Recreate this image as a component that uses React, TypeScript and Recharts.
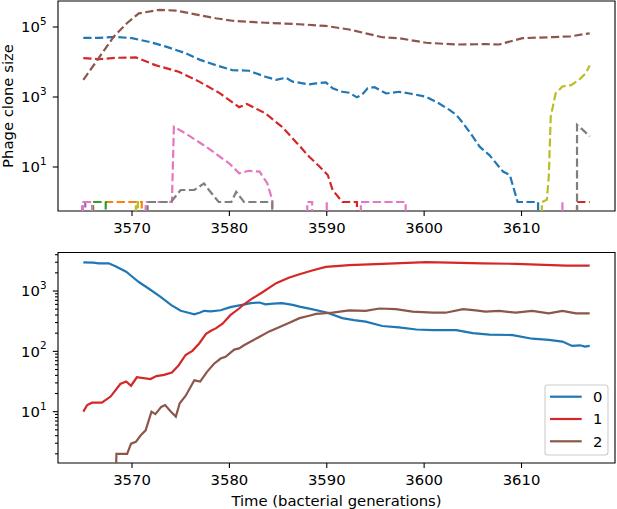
import React from 'react';
import { LineChart, Line, XAxis, YAxis, ReferenceArea } from 'recharts';

const FONT = '"DejaVu Sans", sans-serif';
const EXTINCT = 0.01; // clone size 0, drawn below the log axis

// ---- axes ----
const X_DOMAIN: [number, number] = [3562.4, 3619.6];
const X_TICKS = [3570, 3580, 3590, 3600, 3610];
const TOP_Y_DOMAIN: [number, number] = [0.553, 553000];
const TOP_Y_TICKS = [10, 1000, 100000];
const BOTTOM_Y_DOMAIN: [number, number] = [1.41, 4350];
const BOTTOM_Y_MAJOR = [10, 100, 1000];
const BOTTOM_Y_TICKS = [2, 3, 4, 5, 6, 7, 8, 9, 10, 20, 30, 40, 50, 60, 70, 80, 90, 100, 200, 300, 400, 500, 600, 700, 800, 900, 1000, 2000, 3000, 4000];

// ---- top panel: phage clone sizes ----
const clone0T = [3565, 3566.6, 3568.3, 3570, 3571.7, 3573.5, 3575.5, 3577, 3578.6, 3580.3, 3582, 3583.7, 3584.8, 3585.8, 3586.5, 3588.2, 3588.9, 3589.9, 3590.6, 3591.6, 3592.3, 3593.1, 3593.6, 3594.2, 3594.9, 3596.1, 3597.4, 3598.5, 3600.2, 3601.5, 3602.6, 3603.3, 3604, 3605, 3605.7, 3606.7, 3608.1, 3608.8, 3609.6, 3611.7, 3611.7];
const clone0V = [49000, 49000, 52500, 47900, 38000, 27500, 17800, 11500, 8130, 5890, 5620, 3800, 3090, 3550, 2750, 2290, 2450, 2630, 1780, 1410, 1320, 977, 1150, 1780, 1910, 1260, 1410, 1260, 1020, 661, 427, 309, 178, 74, 38, 21.9, 7.4, 5.9, 1, 1, EXTINCT];

const clone1T = [3566, 3566, 3571, 3571];
const clone1V = [EXTINCT, 1, 1, EXTINCT];

const clone2T = [3566, 3566, 3567.3, 3567.3];
const clone2V = [EXTINCT, 1, 1, EXTINCT];

const clone3T = [3565, 3566.6, 3568.3, 3570.4, 3572.4, 3574.8, 3576.9, 3579, 3581, 3581.8, 3583.7, 3585.4, 3587.2, 3588.2, 3589.2, 3590.1, 3590.6, 3591.6, 3593.1, 3593.1, 3604, 3615.7, 3615.7, 3617];
const clone3V = [12900, 12000, 13200, 13500, 8130, 5250, 2750, 1290, 513, 631, 339, 141, 40, 19.5, 10.7, 5.9, 2.2, 1, 1, EXTINCT, null, EXTINCT, 1, 1];

const clone4T = [3564.9, 3564.9, 3565.2, 3565.2];
const clone4V = [EXTINCT, 1, 1, EXTINCT];

const clone5T = [3565, 3566.5, 3568.1, 3569.5, 3570.7, 3572.8, 3574.5, 3576.9, 3578.6, 3580.3, 3583.7, 3587.2, 3589.9, 3592.3, 3594, 3595.7, 3597.4, 3600.2, 3603.3, 3606.4, 3607.7, 3609.4, 3610.1, 3613.2, 3615, 3617];
const clone5V = [3100, 12000, 52000, 130000, 245000, 309000, 295000, 219000, 178000, 151000, 132000, 120000, 107000, 85000, 66000, 51000, 48000, 35500, 31600, 32400, 31600, 42700, 47900, 51300, 54000, 66000];

const clone6T = [3564.95, 3564.95, 3565.9, 3565.9, 3568, 3571.4, 3571.4, 3574.1, 3574.3, 3575.5, 3577.6, 3580, 3581, 3582, 3583.1, 3583.9, 3584.4, 3584.5, 3586, 3588, 3588, 3588.5, 3588.5, 3589, 3590, 3590, 3590, 3592, 3593.5, 3593.5, 3598.1, 3598.1, 3606, 3614.2, 3614.2, 3614.2];
const clone6V = [EXTINCT, 1, 1, EXTINCT, null, EXTINCT, 1, 1, 141, 91, 38, 12.6, 6.6, 7.8, 7.4, 3.4, 1.15, EXTINCT, null, EXTINCT, 1, 1, EXTINCT, null, EXTINCT, 1, EXTINCT, null, EXTINCT, 1, 1, EXTINCT, null, EXTINCT, 1, EXTINCT];

const clone7T = [3571.6, 3571.6, 3574, 3575, 3576.4, 3577.4, 3577.9, 3578.9, 3580.2, 3580.7, 3581.5, 3584.4, 3584.4, 3600, 3615.7, 3615.7, 3616.3, 3617];
const clone7V = [EXTINCT, 1, 1, 2.2, 2.2, 3.4, 2.2, 1, 1, 1.95, 1, 1, EXTINCT, null, EXTINCT, 160, 115, 75];

const clone8T = [3570.4, 3570.4, 3570.6, 3570.6, 3590, 3611.9, 3612.1, 3612.6, 3612.8, 3613, 3613.5, 3614.2, 3615.1, 3615.9, 3616.6, 3617];
const clone8V = [EXTINCT, 1, 1, EXTINCT, null, EXTINCT, 1, 1.15, 5.2, 275, 1260, 2000, 2190, 3090, 4790, 7940];

// ---- bottom panel: bacterial populations ----
const bact0T = [3565, 3566, 3566.6, 3567.6, 3568.3, 3569.4, 3570, 3570.7, 3571.7, 3572.9, 3574, 3575, 3575.7, 3576.4, 3577, 3577.4, 3578.1, 3579.1, 3580.1, 3581.3, 3582.2, 3583.1, 3583.7, 3584.5, 3585.4, 3586.5, 3587.2, 3588.2, 3589.9, 3591.6, 3592.8, 3594, 3595.7, 3597.4, 3599.2, 3600.9, 3603.3, 3605, 3606.7, 3609.1, 3611.1, 3612.8, 3614.2, 3615.2, 3616, 3616.5, 3617];
const bact0V = [2990, 2950, 2880, 2880, 2570, 2090, 1740, 1410, 1100, 810, 590, 470, 440, 410, 440, 470, 460, 480, 540, 590, 630, 645, 600, 620, 630, 590, 550, 510, 445, 355, 330, 310, 263, 250, 230, 224, 224, 200, 190, 186, 162, 155, 145, 123, 126, 120, 123];

const bact1T = [3565, 3565.4, 3565.9, 3566.9, 3567.8, 3568.8, 3569.4, 3569.9, 3570.5, 3571.9, 3572.5, 3573.3, 3574.1, 3574.8, 3575.5, 3576.2, 3576.9, 3577.6, 3578.1, 3578.6, 3579.3, 3580.1, 3581, 3581.5, 3582.4, 3583.4, 3584.8, 3586.1, 3587.2, 3588.5, 3589.9, 3592.3, 3595.7, 3600.2, 3602.6, 3606, 3609.4, 3614.6, 3617];
const bact1V = [10, 12.9, 14.1, 14.1, 17.8, 28.8, 31.6, 26.9, 37.2, 34.7, 38.9, 40.7, 44.7, 58.9, 87, 102, 135, 195, 219, 240, 288, 398, 513, 603, 760, 955, 1350, 1660, 1900, 2190, 2510, 2690, 2820, 3020, 2950, 2880, 2820, 2630, 2630];

const bact2T = [3568.35, 3568.4, 3569.5, 3569.9, 3570.4, 3570.9, 3571.4, 3572, 3572.4, 3573, 3573.4, 3574, 3574.5, 3574.9, 3575.5, 3576.4, 3577, 3577.7, 3578.4, 3579.1, 3579.6, 3580.5, 3581, 3581.5, 3582.3, 3583.1, 3584.1, 3585.1, 3586.1, 3587.2, 3588.2, 3588.9, 3590.6, 3592.3, 3594, 3595.4, 3597.1, 3598.8, 3600.9, 3602.2, 3604, 3605.3, 3606.3, 3607.7, 3609.4, 3611.1, 3612.8, 3614.2, 3615.6, 3617];
const bact2V = [1, 2, 2, 2.95, 3.16, 4.07, 4.9, 10, 9.1, 12, 12.9, 10, 8.3, 13.8, 18.2, 33.1, 31.6, 45.7, 61.7, 75.9, 81.3, 107, 112, 126, 148, 174, 214, 251, 295, 355, 389, 417, 437, 479, 468, 513, 501, 457, 437, 437, 501, 479, 457, 468, 437, 468, 427, 468, 427, 427];

const LEGEND_LABELS = ['0', '1', '2'];

const zip = (t: number[], v: (number | null)[]) => t.map((x, i) => ({ t: x, v: v[i] }));

const C = {
  blue: '#1f77b4', orange: '#ff7f0e', green: '#2ca02c', red: '#d62728', purple: '#9467bd',
  brown: '#8c564b', pink: '#e377c2', gray: '#7f7f7f', olive: '#bcbd22',
};

const phageSeries = [
  { data: zip(clone0T, clone0V), color: C.blue },
  { data: zip(clone1T, clone1V), color: C.orange },
  { data: zip(clone2T, clone2V), color: C.green },
  { data: zip(clone3T, clone3V), color: C.red },
  { data: zip(clone4T, clone4V), color: C.purple },
  { data: zip(clone5T, clone5V), color: C.brown },
  { data: zip(clone6T, clone6V), color: C.pink },
  { data: zip(clone7T, clone7V), color: C.gray },
  { data: zip(clone8T, clone8V), color: C.olive },
];

const bactSeries = [
  { data: zip(bact0T, bact0V), color: C.blue, name: LEGEND_LABELS[0] },
  { data: zip(bact1T, bact1V), color: C.red, name: LEGEND_LABELS[1] },
  { data: zip(bact2T, bact2V), color: C.brown, name: LEGEND_LABELS[2] },
];

const FS = 14.8;

function LogTick(props: any) {
  const { x, y, payload, majors } = props;
  const v = payload?.value;
  const major = majors.includes(v);
  const exp = Math.round(Math.log10(v));
  return (
    <g>
      <line x1={x - (major ? 5.2 : 3)} x2={x} y1={y} y2={y} stroke="#000" strokeWidth={1.1} />
      {major && (
        <text x={x - 11.5} y={y + 5.2} textAnchor="end" fontSize={FS} fontFamily={FONT} fill="#000">
          10<tspan dy={-7.2} fontSize={10.4}>{exp}</tspan>
        </text>
      )}
    </g>
  );
}

const xAxisCommon = {
  type: 'number' as const,
  dataKey: 't',
  domain: X_DOMAIN,
  ticks: X_TICKS,
  allowDataOverflow: true,
  interval: 0 as const,
  axisLine: false,
  tickSize: 5,
  tickMargin: 6,
  tickLine: { stroke: '#000', strokeWidth: 1.1 },
  tick: { fill: '#000', fontSize: FS, fontFamily: FONT },
};

export default function App() {
  return (
    <div style={{ position: 'relative', width: 617, height: 509, background: '#fff', fontFamily: FONT }}>
      <style>{'body{margin:0;}'}</style>
      <div style={{ position: 'absolute', left: 0, top: 0 }}>
        <LineChart width={617} height={240} margin={{ top: 1, right: 2, left: 0, bottom: 0 }}>
          <XAxis {...xAxisCommon} height={29} />
          <YAxis
            type="number"
            scale="log"
            domain={TOP_Y_DOMAIN}
            ticks={TOP_Y_TICKS}
            allowDataOverflow
            interval={0}
            width={58}
            axisLine={false}
            tickLine={false}
            tickSize={0}
            tickMargin={0}
            tick={(p: any) => <LogTick {...p} majors={TOP_Y_TICKS} />}
          />
          {phageSeries.map((s, i) => (
            <Line
              key={i}
              data={s.data}
              dataKey="v"
              type="linear"
              stroke={s.color}
              strokeWidth={2.2}
              strokeDasharray="8.2 3.5"
              dot={false}
              activeDot={false}
              connectNulls={false}
              isAnimationActive={false}
            />
          ))}
          <ReferenceArea
            x1={X_DOMAIN[0]}
            x2={X_DOMAIN[1]}
            y1={TOP_Y_DOMAIN[0]}
            y2={TOP_Y_DOMAIN[1]}
            fill="none"
            stroke="#000"
            strokeWidth={1.1}
            ifOverflow="visible"
          />
        </LineChart>
      </div>
      <div style={{ position: 'absolute', left: 0, top: 240 }}>
        <LineChart width={617} height={269} margin={{ top: 12.5, right: 2, left: 0, bottom: 0 }}>
          <XAxis {...xAxisCommon} height={46} />
          <YAxis
            type="number"
            scale="log"
            domain={BOTTOM_Y_DOMAIN}
            ticks={BOTTOM_Y_TICKS}
            allowDataOverflow
            interval={0}
            width={58}
            axisLine={false}
            tickLine={false}
            tickSize={0}
            tickMargin={0}
            tick={(p: any) => <LogTick {...p} majors={BOTTOM_Y_MAJOR} />}
          />
          {bactSeries.map((s, i) => (
            <Line
              key={i}
              data={s.data}
              dataKey="v"
              name={s.name}
              type="linear"
              stroke={s.color}
              strokeWidth={2.2}
              dot={false}
              activeDot={false}
              connectNulls={false}
              isAnimationActive={false}
            />
          ))}
          <ReferenceArea
            x1={X_DOMAIN[0]}
            x2={X_DOMAIN[1]}
            y1={BOTTOM_Y_DOMAIN[0]}
            y2={BOTTOM_Y_DOMAIN[1]}
            fill="none"
            stroke="#000"
            strokeWidth={1.1}
            ifOverflow="visible"
          />
        </LineChart>
      </div>
      <svg
        width={617}
        height={509}
        style={{ position: 'absolute', left: 0, top: 0, pointerEvents: 'none' }}
      >
        <text
          transform="rotate(-90)"
          x={-106}
          y={13}
          textAnchor="middle"
          fontSize={FS}
          fontFamily={FONT}
          fill="#000"
        >
          Phage clone size
        </text>
        <text x={336.5} y={505.5} textAnchor="middle" fontSize={FS} fontFamily={FONT} fill="#000">
          Time (bacterial generations)
        </text>
        <g>
          <rect x={545} y={385} width={63} height={70} rx={3} fill="#fff" fillOpacity={0.8} stroke="#cccccc" strokeWidth={1.1} />
          {bactSeries.map((s, i) => (
            <g key={i}>
              <line x1={550} x2={581.7} y1={396.7 + i * 22.3} y2={396.7 + i * 22.3} stroke={s.color} strokeWidth={2.2} />
              <text x={593} y={396.7 + i * 22.3 + 5.3} fontSize={FS} fontFamily={FONT} fill="#000">
                {s.name}
              </text>
            </g>
          ))}
        </g>
      </svg>
    </div>
  );
}
